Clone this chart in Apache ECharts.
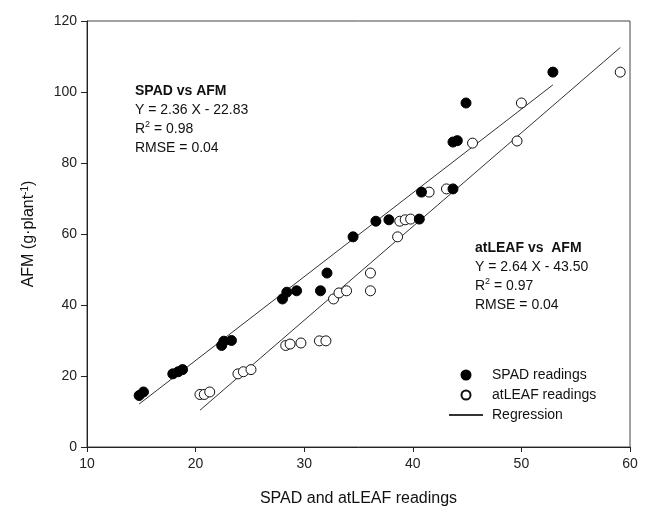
<!DOCTYPE html>
<html>
<head>
<meta charset="utf-8">
<script src="https://cdn.jsdelivr.net/npm/echarts@6/dist/echarts.min.js"></script>
<style>
  html, body { margin: 0; padding: 0; background: #fff; }
  #chart { width: 649px; height: 519px; }
</style>
</head>
<body>
<div id="chart"></div>
<script>
// SPAD readings vs AFM
const spadX = [14.8, 15.2, 17.9, 18.4, 18.8, 22.4, 22.6, 23.3, 28.0, 28.4, 29.3, 31.5, 32.1, 34.5, 36.6, 37.8, 40.6, 40.8, 43.7, 43.7, 44.1, 44.9, 52.9];
const spadY = [14.5, 15.5, 20.6, 21.2, 21.8, 28.6, 29.8, 30.0, 41.7, 43.6, 44.0, 44.0, 49.0, 59.2, 63.6, 64.0, 64.2, 71.8, 72.7, 85.9, 86.3, 96.9, 105.6];

// atLEAF readings vs AFM
const leafX = [20.4, 20.8, 21.3, 23.9, 24.4, 25.1, 28.3, 28.7, 29.7, 31.4, 32.0, 32.7, 33.2, 33.9, 36.1, 36.1, 38.6, 38.8, 39.3, 39.8, 41.5, 43.1, 45.5, 49.6, 50.0, 59.1];
const leafY = [14.8, 14.8, 15.5, 20.6, 21.2, 21.8, 28.6, 29.0, 29.3, 29.9, 29.9, 41.7, 43.4, 44.0, 44.0, 49.0, 59.2, 63.6, 64.0, 64.2, 71.8, 72.7, 85.6, 86.2, 96.9, 105.6];

// regression coefficients [slope, intercept]
const spadFit = [2.36, -22.83];
const leafFit = [2.64, -43.50];

const xTicks = [10, 20, 30, 40, 50, 60];
const yTicks = [0, 20, 40, 60, 80, 100, 120];

const zip = (xs, ys) => xs.map((x, i) => [x, ys[i]]);
const fitLine = (xs, fit) => {
  const lo = Math.min(...xs), hi = Math.max(...xs);
  return [[lo, fit[0] * lo + fit[1]], [hi, fit[0] * hi + fit[1]]];
};

const font = "Liberation Sans, Arial, sans-serif";
const chart = echarts.init(document.getElementById("chart"));

chart.setOption({
  animation: false,
  backgroundColor: "#fff",
  textStyle: { fontFamily: font },
  grid: {
    left: 87, right: 19, top: 21, bottom: 72,
    show: true, borderColor: "#444", borderWidth: 1,
  },
  xAxis: {
    type: "value",
    min: xTicks[0], max: xTicks[xTicks.length - 1], interval: 10,
    name: "SPAD and atLEAF readings",
    nameLocation: "middle", nameGap: 44,
    nameTextStyle: { fontSize: 16, color: "#111", fontFamily: font },
    axisLine: { lineStyle: { color: "#222", width: 1 } },
    axisTick: { inside: false, length: 5, lineStyle: { color: "#222" } },
    axisLabel: { fontSize: 14, color: "#222", margin: 10, fontFamily: font },
    splitLine: { show: false },
  },
  yAxis: {
    type: "value",
    min: yTicks[0], max: yTicks[yTicks.length - 1], interval: 20,
    name: "{a|AFM (g·plant}{s|-1}{a|)}",
    nameLocation: "middle", nameGap: 49,
    nameTextStyle: {
      rich: {
        a: { fontSize: 16, color: "#111", fontFamily: font },
        s: { fontSize: 10, color: "#111", fontFamily: font, verticalAlign: "top", padding: [0, 0, 8, 0] },
      },
    },
    axisLine: { lineStyle: { color: "#222", width: 1 } },
    axisTick: { inside: false, length: 6, lineStyle: { color: "#222" } },
    axisLabel: { fontSize: 14, color: "#222", margin: 10, fontFamily: font },
    splitLine: { show: false },
  },
  legend: {
    orient: "vertical",
    left: 448, top: 368, padding: 0,
    itemWidth: 34, itemHeight: 9, itemGap: 6,
    textStyle: { fontSize: 14, color: "#111", fontFamily: font, padding: [0, 0, 0, 4] },
    data: [
      "SPAD readings",
      "atLEAF readings",
      { name: "Regression", itemStyle: { color: "transparent", borderWidth: 0 } },
    ],
  },
  graphic: [
    {
      type: "text", left: 135, top: 82,
      style: {
        text: "{b|SPAD vs AFM}\nY = 2.36 X - 22.83\nR{s|2} = 0.98\nRMSE = 0.04",
        font: "14px " + font, fill: "#111", lineHeight: 19,
        rich: {
          b: { fontWeight: "bold", fontSize: 14, fontFamily: font, fill: "#111" },
          s: { fontSize: 9, fontFamily: font, fill: "#111", verticalAlign: "top", padding: [0, 0, 6, 0] },
        },
      },
    },
    {
      type: "text", left: 475, top: 239,
      style: {
        text: "{b|atLEAF vs  AFM}\nY = 2.64 X - 43.50\nR{s|2} = 0.97\nRMSE = 0.04",
        font: "14px " + font, fill: "#111", lineHeight: 19,
        rich: {
          b: { fontWeight: "bold", fontSize: 14, fontFamily: font, fill: "#111" },
          s: { fontSize: 9, fontFamily: font, fill: "#111", verticalAlign: "top", padding: [0, 0, 6, 0] },
        },
      },
    },
  ],
  series: [
    {
      name: "Regression", type: "line", symbol: "none",
      data: fitLine(spadX, spadFit),
      lineStyle: { color: "#333", width: 1 }, itemStyle: { color: "#333" },
      z: 1,
    },
    {
      name: "Regression", type: "line", symbol: "none",
      data: fitLine(leafX, leafFit),
      lineStyle: { color: "#333", width: 1 }, itemStyle: { color: "#333" },
      z: 1,
    },
    {
      name: "atLEAF readings", type: "scatter", symbol: "circle", symbolSize: 10,
      data: zip(leafX, leafY),
      itemStyle: { color: "#fff", borderColor: "#111", borderWidth: 1, opacity: 1 },
      z: 3,
    },
    {
      name: "SPAD readings", type: "scatter", symbol: "circle", symbolSize: 10,
      data: zip(spadX, spadY),
      itemStyle: { color: "#000", borderColor: "#000", borderWidth: 1, opacity: 1 },
      z: 4,
    },
  ],
});
</script>
</body>
</html>
